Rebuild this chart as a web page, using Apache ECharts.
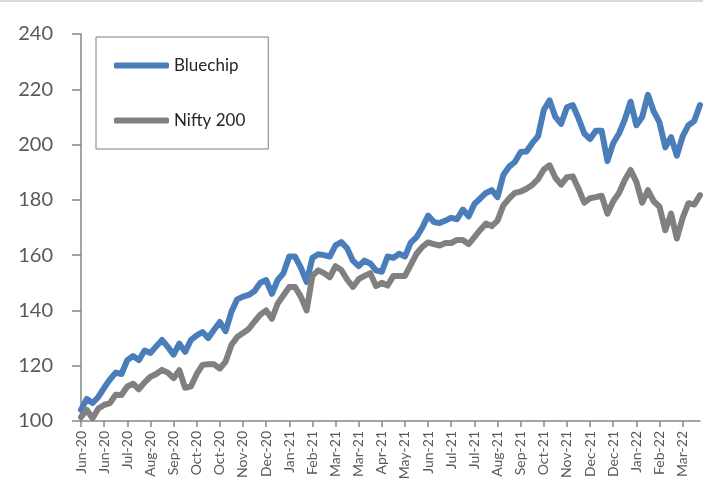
<!DOCTYPE html>
<html>
<head>
<meta charset="utf-8">
<script src="https://cdn.jsdelivr.net/npm/echarts@6/dist/echarts.min.js"></script>
<style>
  html, body { margin: 0; padding: 0; background: #fff; }
  #chart { width: 703px; height: 497px; }
</style>
</head>
<body>
<div id="chart"></div>
<script>
// one label every 4 points
const tickLabels = [
  "Jun-20", "Jun-20", "Jul-20", "Aug-20", "Sep-20", "Oct-20", "Oct-20", "Nov-20", "Dec-20",
  "Jan-21", "Feb-21", "Mar-21", "Mar-21", "Apr-21", "May-21", "Jun-21", "Jul-21", "Jul-21",
  "Aug-21", "Sep-21", "Oct-21", "Nov-21", "Dec-21", "Dec-21", "Jan-22", "Feb-22", "Mar-22"
];

const bluechip = [
  104, 108, 106.5, 108.7, 112, 115, 117.5, 117, 122, 123.5,
  122, 125.5, 124.6, 127, 129.3, 126.8, 124, 128, 125, 129.3,
  131, 132.2, 130, 133, 135.8, 132.5, 139.5, 144, 145, 145.6,
  147, 150, 151, 146, 151, 153.5, 159.5, 159.5, 155.5, 150.3,
  159, 160.3, 160, 159.5, 163.5, 164.7, 162.5, 158, 156, 158,
  157, 154.5, 154, 159.5, 159, 160.5, 159.5, 164.5, 166.5, 170,
  174.3, 172, 171.6, 172.5, 173.5, 173, 176.5, 174, 178.5, 180.5,
  182.5, 183.5, 181, 189, 192, 193.7, 197.3, 197.5, 200.5, 203,
  212.5, 216, 210, 207.5, 213.5, 214.3, 209.5, 204, 202, 205,
  205, 194, 200.5, 204, 209, 215.5, 207, 210, 218, 212,
  208, 199, 202.7, 196, 203, 207, 208.5, 214.3
];

const nifty200 = [
  101.4, 104, 101, 104.5, 105.8, 106.5, 109.5, 109.4, 112.5, 113.5,
  111.5, 114, 116, 117, 118.5, 117.5, 115.5, 118.4, 112, 112.5,
  117, 120.3, 120.5, 120.5, 119, 121.5, 127.5, 130.4, 131.8, 133.3,
  136, 138.5, 140, 137, 142.5, 145.5, 148.5, 148.5, 145, 140,
  152.5, 154.5, 153.5, 152, 156, 154.6, 151.2, 148.5, 151.3, 152.5,
  153.5, 148.8, 150, 149, 152.5, 152.5, 152.5, 156.5, 160.5, 163,
  164.6, 164, 163.5, 164.4, 164.4, 165.5, 165.5, 164, 166.5, 169.1,
  171.4, 170.5, 172.5, 178, 180.5, 182.5, 183, 184, 185.4, 187.5,
  191, 192.5, 188, 185.5, 188.2, 188.5, 184, 179, 180.6, 181,
  181.5, 175, 179.5, 182.5, 187.2, 190.8, 186.5, 179, 183.5, 179.5,
  177.5, 169, 175, 166, 173.5, 178.8, 178.3, 181.7
];

const yTicks = { min: 100, max: 240, interval: 20 };

const chart = echarts.init(document.getElementById("chart"));
const categories = bluechip.map((_, i) => i);
const axisGray = "#868686";
const textGray = "#595959";

chart.setOption({
  animation: false,
  textStyle: { fontFamily: "Lato, 'Liberation Sans', sans-serif" },
  graphic: [
    { type: "rect", left: 0, top: 0, shape: { width: 703, height: 2 }, style: { fill: "#d9d9d9" } }
  ],
  legend: {
    orient: "vertical",
    left: 96,
    top: 37,
    padding: [20, 23, 20, 18],
    itemGap: 38,
    itemWidth: 55,
    itemHeight: 6,
    icon: "roundRect",
    borderColor: "#7f7f7f",
    borderWidth: 1,
    textStyle: { fontSize: 17, color: "#262626", fontFamily: "Lato, sans-serif" },
    data: ["Bluechip", "Nifty 200"]
  },
  grid: { left: 81, right: 3, top: 34, bottom: 76, containLabel: false },
  xAxis: {
    type: "category",
    boundaryGap: false,
    data: categories,
    axisLine: { lineStyle: { color: axisGray, width: 1.5 } },
    axisTick: { interval: 3, length: 6, lineStyle: { color: axisGray, width: 1.5 } },
    axisLabel: {
      interval: 3,
      rotate: 90,
      margin: 10,
      fontSize: 14,
      color: textGray,
      formatter: (v, i) => tickLabels[i / 4] || ""
    },
    splitLine: { show: false }
  },
  yAxis: {
    type: "value",
    min: yTicks.min,
    max: yTicks.max,
    interval: yTicks.interval,
    axisLine: { show: true, lineStyle: { color: axisGray, width: 1.5 } },
    axisTick: { show: true, length: 9, lineStyle: { color: axisGray, width: 1.5 } },
    axisLabel: { fontSize: 20, color: textGray, margin: 28 },
    splitLine: { show: false }
  },
  series: [
    {
      name: "Bluechip",
      type: "line",
      data: bluechip,
      symbol: "none",
      color: "#4a7ebb",
      lineStyle: { width: 6, color: "#4a7ebb", cap: "round", join: "round" }
    },
    {
      name: "Nifty 200",
      type: "line",
      data: nifty200,
      symbol: "none",
      color: "#808080",
      lineStyle: { width: 6, color: "#808080", cap: "round", join: "round" }
    }
  ]
});
</script>
</body>
</html>
